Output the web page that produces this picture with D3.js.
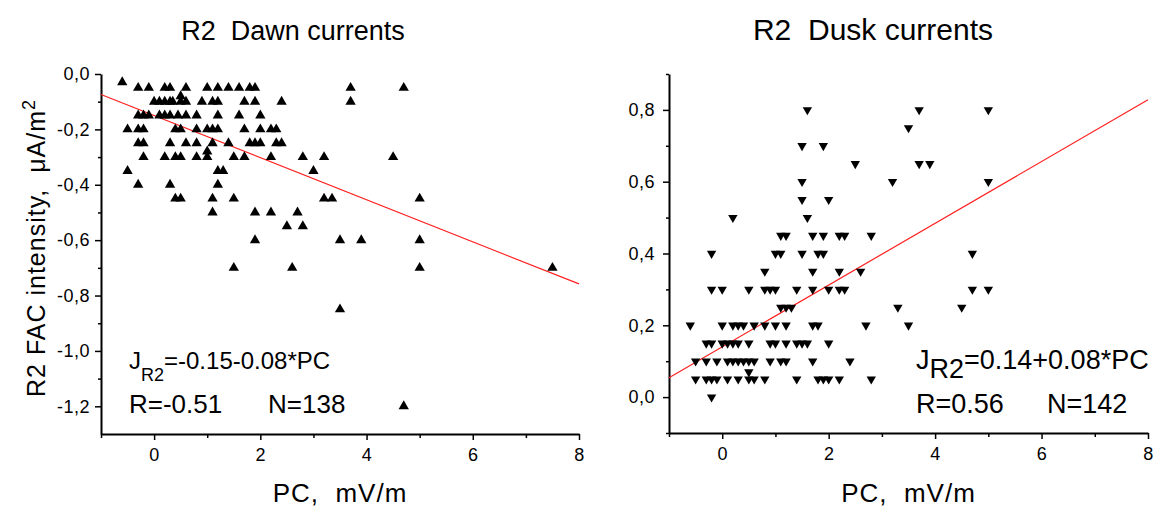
<!DOCTYPE html>
<html lang="en">

<head>
    <meta charset="utf-8">
    <title>R2 currents</title>
    <script src="https://d3js.org/d3.v7.min.js"></script>
    <style>
        body { margin: 0; background: #fff; }
        text { font-family: "Liberation Sans", Arial, sans-serif; fill: #000; }
    </style>
</head>

<body>
    <script type="text/javascript">
        // dawn currents (R2), PC in mV/m, J in uA/m2
        var dawnPC = [
            -0.6,
            -0.3, -0.1, 0.2, 0.3, 0.6, 1.0, 1.2, 1.4, 1.6, 1.8, 1.9, 3.7, 4.7,
            0.5,
            0, 0.1, 0.2, 0.3, 0.35, 0.5, 0.6, 0.9, 1.1, 1.2, 1.7, 1.9, 2.4, 3.7,
            -0.3, -0.2, -0.1, 0.1, 0.2, 0.3, 0.45, 0.6, 0.8, 1.2, 1.6, 2.0,
            -0.5, -0.3, -0.2, 0.4, 0.5, 0.8, 1.0, 1.1, 1.2, 1.7, 2.0, 2.2, 2.3,
            -0.3, -0.2, 0.3, 0.6, 0.8, 1.1, 1.4, 1.8, 1.9, 2.0, 2.3, 2.4,
            1.0,
            -0.2, 0.2, 0.4, 0.5, 0.8, 1.0, 1.5, 1.7, 2.2, 2.8, 3.2, 4.5,
            -0.5, 1.2, 1.3, 3.0,
            -0.3, 0.3, 1.2,
            0.4, 0.5, 1.1, 1.5, 3.2, 3.35, 5.0,
            1.1, 1.9, 2.2, 2.7,
            2.5, 2.8,
            1.9, 3.5, 3.9, 5.0,
            1.5, 2.6, 5.0, 7.5,
            3.5,
            4.7
        ];
        var dawnJ = [
            -0.03,
            -0.05, -0.05, -0.05, -0.05, -0.05, -0.05, -0.05, -0.05, -0.05, -0.05, -0.05, -0.05, -0.05,
            -0.08,
            -0.1, -0.1, -0.1, -0.1, -0.1, -0.1, -0.1, -0.1, -0.1, -0.1, -0.1, -0.1, -0.1, -0.1,
            -0.15, -0.15, -0.15, -0.15, -0.15, -0.15, -0.15, -0.15, -0.15, -0.15, -0.15, -0.15,
            -0.2, -0.2, -0.2, -0.2, -0.2, -0.2, -0.2, -0.2, -0.2, -0.2, -0.2, -0.2, -0.2,
            -0.25, -0.25, -0.25, -0.25, -0.25, -0.25, -0.25, -0.25, -0.25, -0.25, -0.25, -0.25,
            -0.28,
            -0.3, -0.3, -0.3, -0.3, -0.3, -0.3, -0.3, -0.3, -0.3, -0.3, -0.3, -0.3,
            -0.35, -0.35, -0.35, -0.35,
            -0.4, -0.4, -0.4,
            -0.45, -0.45, -0.45, -0.45, -0.45, -0.45, -0.45,
            -0.5, -0.5, -0.5, -0.5,
            -0.55, -0.55,
            -0.6, -0.6, -0.6, -0.6,
            -0.7, -0.7, -0.7, -0.7,
            -0.85,
            -1.2
        ];

        // dusk currents (R2)
        var duskPC = [
            1.6, 3.7, 5.0,
            3.5,
            1.5, 1.9,
            2.5, 3.7, 3.9,
            1.5, 3.2, 5.0,
            1.5, 2.0,
            0.2, 1.6,
            1.1, 1.2, 1.7, 1.9, 2.2, 2.3, 2.8,
            -0.2, 1.0, 1.1, 1.5, 1.8, 1.9, 4.7,
            0.8, 1.7, 2.2, 2.6,
            -0.2, 0, 0.5, 0.8, 0.9, 1.0, 1.4, 1.7, 2.0, 2.2, 2.3, 4.7, 5.0,
            1.1, 1.2, 1.3, 3.3, 4.5,
            -0.6, 0, 0.2, 0.3, 0.4, 0.6, 0.8, 1.0, 1.2, 1.7, 1.8, 2.7, 3.5,
            -0.3, -0.2, 0, 0.1, 0.2, 0.3, 0.5, 0.9, 1.0, 1.2, 1.4, 1.5, 1.6, 2.0,
            -0.5, -0.3, -0.1, 0.1, 0.2, 0.3, 0.4, 0.5, 0.6, 0.9, 1.1, 1.2, 1.7, 2.4,
            0.5,
            -0.5, -0.3, -0.2, -0.1, 0.1, 0.3, 0.5, 0.6, 0.8, 1.4, 1.8, 1.9, 2.0, 2.2, 2.8,
            -0.2
        ];
        var duskJ = [
            0.8, 0.8, 0.8,
            0.75,
            0.7, 0.7,
            0.65, 0.65, 0.65,
            0.6, 0.6, 0.6,
            0.55, 0.55,
            0.5, 0.5,
            0.45, 0.45, 0.45, 0.45, 0.45, 0.45, 0.45,
            0.4, 0.4, 0.4, 0.4, 0.4, 0.4, 0.4,
            0.35, 0.35, 0.35, 0.35,
            0.3, 0.3, 0.3, 0.3, 0.3, 0.3, 0.3, 0.3, 0.3, 0.3, 0.3, 0.3, 0.3,
            0.25, 0.25, 0.25, 0.25, 0.25,
            0.2, 0.2, 0.2, 0.2, 0.2, 0.2, 0.2, 0.2, 0.2, 0.2, 0.2, 0.2, 0.2,
            0.15, 0.15, 0.15, 0.15, 0.15, 0.15, 0.15, 0.15, 0.15, 0.15, 0.15, 0.15, 0.15, 0.15,
            0.1, 0.1, 0.1, 0.1, 0.1, 0.1, 0.1, 0.1, 0.1, 0.1, 0.1, 0.1, 0.1, 0.1,
            0.07,
            0.05, 0.05, 0.05, 0.05, 0.05, 0.05, 0.05, 0.05, 0.05, 0.05, 0.05, 0.05, 0.05, 0.05, 0.05,
            0.0
        ];

        // linear fits [intercept, slope]
        var dawnFit = [-0.15, -0.076];
        var duskFit = [0.14, 0.086];

        var xTicks = [0, 2, 4, 6, 8];
        var xMinorTicks = [-1, 1, 3, 5, 7];
        var dawnYTicks = [0, -0.2, -0.4, -0.6, -0.8, -1.0, -1.2];
        var dawnYMinor = [-0.1, -0.3, -0.5, -0.7, -0.9, -1.1];
        var duskYTicks = [0, 0.2, 0.4, 0.6, 0.8];
        var duskYMinor = [-0.1, 0.1, 0.3, 0.5, 0.7, 0.9];

        var svgWidth = 1161;
        var svgHeight = 514;

        var svg = d3.select('body')
            .append('svg')
            .attr('width', svgWidth)
            .attr('height', svgHeight);

        var commaFmt = function (d) {
            return d3.format('.1f')(d).replace('.', ',').replace('\u2212', '-');
        };

        function drawPanel(p) {
            var xScale = d3.scaleLinear().domain([-1, 8]).range([p.left, p.right]);
            var yScale = d3.scaleLinear().domain(p.yDomain).range([p.bottom, p.top]);

            var g = svg.append('g');

            // title
            g.append('text')
                .attr('x', p.titleX)
                .attr('y', 40)
                .attr('text-anchor', 'middle')
                .attr('font-size', p.titleSize)
                .attr('xml:space', 'preserve')
                .text(p.title);

            // x axis, major + minor
            var xAxis = d3.axisBottom(xScale).tickValues(xTicks).tickSize(6).tickSizeOuter(0)
                .tickFormat(d3.format('d')).tickPadding(8);
            g.append('g')
                .attr('transform', 'translate(0,' + p.bottom + ')')
                .call(xAxis);
            var xm = g.append('g')
                .attr('transform', 'translate(0,' + p.bottom + ')')
                .call(d3.axisBottom(xScale).tickValues(xMinorTicks).tickSize(4).tickSizeOuter(0).tickFormat(''));
            xm.select('.domain').remove();

            // y axis, major + minor
            var yAxis = d3.axisLeft(yScale).tickValues(p.yTicks).tickSize(6).tickSizeOuter(0)
                .tickFormat(commaFmt).tickPadding(p.yPad);
            g.append('g')
                .attr('transform', 'translate(' + p.left + ',0)')
                .call(yAxis);
            var ym = g.append('g')
                .attr('transform', 'translate(' + p.left + ',0)')
                .call(d3.axisLeft(yScale).tickValues(p.yMinor).tickSize(3).tickSizeOuter(0).tickFormat(''));
            ym.select('.domain').remove();

            g.selectAll('.domain').attr('stroke', '#000').attr('stroke-width', 2);
            g.selectAll('.tick line').attr('stroke', '#000').attr('stroke-width', 1.5);
            g.selectAll('.tick text')
                .attr('font-size', 18)
                .attr('letter-spacing', 0.5)
                .attr('font-family', '"Liberation Sans", Arial, sans-serif')
                .attr('fill', '#000');

            // fit line
            g.append('line')
                .attr('x1', xScale(-1))
                .attr('y1', yScale(p.fit[0] + p.fit[1] * -1))
                .attr('x2', xScale(8))
                .attr('y2', yScale(p.fit[0] + p.fit[1] * 8))
                .attr('stroke', '#ff2020')
                .attr('stroke-width', 1.2);

            // points
            var pts = p.xs.map(function (d, i) { return [d, p.ys[i]]; });
            var sym = d3.symbol().type(d3.symbolTriangle).size(p.markSize);
            g.selectAll('path.pt')
                .data(pts)
                .enter()
                .append('path')
                .attr('class', 'pt')
                .attr('d', sym)
                .attr('fill', '#000')
                .attr('transform', function (d) {
                    return 'translate(' + xScale(d[0]) + ',' + yScale(d[1]) + ')' + (p.down ? ' rotate(180)' : '');
                });

            // x label
            g.append('text')
                .attr('x', (p.left + p.right) / 2)
                .attr('y', 502)
                .attr('text-anchor', 'middle')
                .attr('font-size', 26)
                .attr('letter-spacing', 1)
                .attr('xml:space', 'preserve')
                .text('PC,  mV/m');

            // fit equation
            var eq = g.append('text')
                .attr('x', p.textX)
                .attr('y', 369)
                .attr('font-size', p.eqSize);
            eq.append('tspan').text('J');
            eq.append('tspan').attr('dy', p.subDy).attr('font-size', p.subSize).text('R2');
            eq.append('tspan').attr('dy', -p.subDy).text(p.eq);

            g.append('text')
                .attr('x', p.textX)
                .attr('y', 413)
                .attr('font-size', p.rSize)
                .text(p.rText);
            g.append('text')
                .attr('x', p.nX)
                .attr('y', 413)
                .attr('font-size', p.rSize)
                .text(p.nText);
        }

        drawPanel({
            title: 'R2  Dawn currents', titleX: 293, titleSize: 27,
            left: 101, right: 579, top: 74, bottom: 434,
            yDomain: [-1.3, 0], yTicks: dawnYTicks, yMinor: dawnYMinor, yPad: 5,
            xs: dawnPC, ys: dawnJ, fit: dawnFit, markSize: 46, down: false,
            textX: 129, eq: '=-0.15-0.08*PC', eqSize: 24, subDy: 12, subSize: 18,
            rSize: 26, rText: 'R=-0.51', nX: 268, nText: 'N=138'
        });

        drawPanel({
            title: 'R2  Dusk currents', titleX: 873, titleSize: 30,
            left: 669, right: 1148, top: 74, bottom: 433,
            yDomain: [-0.1, 0.9], yTicks: duskYTicks, yMinor: duskYMinor, yPad: 8,
            xs: duskPC, ys: duskJ, fit: duskFit, markSize: 38, down: true,
            textX: 916, eq: '=0.14+0.08*PC', eqSize: 27, subDy: 9, subSize: 27,
            rSize: 27, rText: 'R=0.56', nX: 1047, nText: 'N=142'
        });

        // y axis label (left panel only)
        var yl = svg.append('text')
            .attr('transform', 'translate(45,248) rotate(-90)')
            .attr('text-anchor', 'middle')
            .attr('font-size', 25)
            .attr('letter-spacing', 1)
            .attr('xml:space', 'preserve');
        yl.append('tspan').text('R2 FAC intensity,  \u03bcA/m');
        yl.append('tspan').attr('dy', -10).attr('font-size', 18).text('2');
    </script>
</body>

</html>
